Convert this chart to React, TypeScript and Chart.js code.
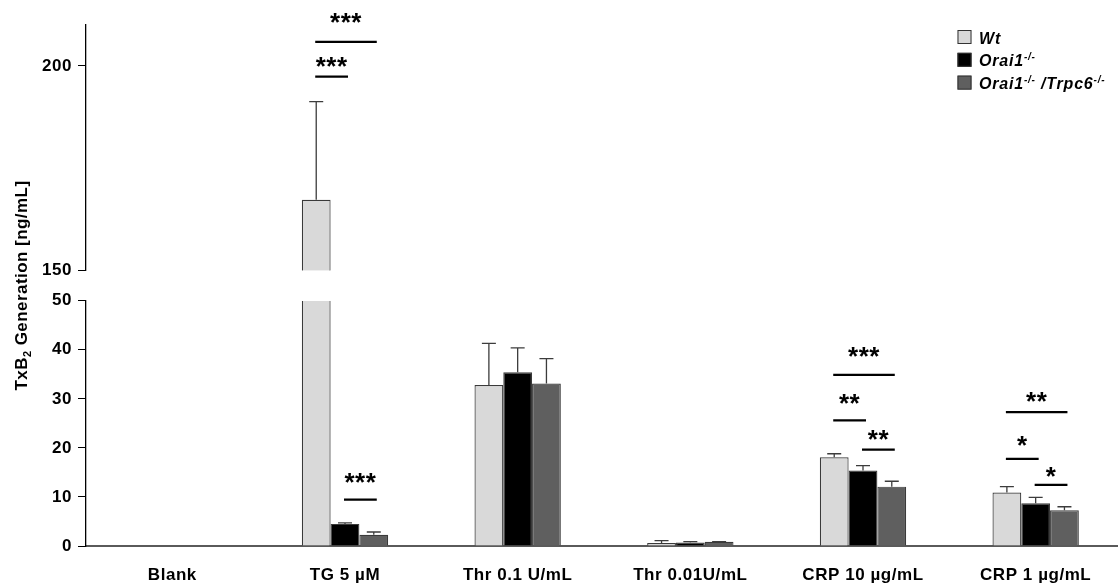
import { useEffect, useRef } from 'react';
import { Chart, registerables } from 'chart.js';

Chart.register(...registerables);

const FONT = '"Liberation Sans", Arial, Helvetica, sans-serif';
const SPACING = '0.55px';

// ---- data ----
const categories = ['Blank', 'TG 5 µM', 'Thr 0.1 U/mL', 'Thr 0.01U/mL', 'CRP 10 µg/mL', 'CRP 1 µg/mL'];
const seriesLabels = ['Wt', 'Orai1-/-', 'Orai1-/- /Trpc6-/-'];
const seriesColors = ['#d9d9d9', '#000000', '#5f5f5f'];

const wtValues = [0.1, 167.3, 32.8, 0.6, 18.1, 10.9];
const wtErrors = [0, 24.0, 8.5, 0.5, 0.7, 1.2];
const orai1Values = [0.1, 4.5, 35.4, 0.7, 15.4, 8.7];
const orai1Errors = [0, 0.2, 5.0, 0.2, 1.0, 1.2];
const dkoValues = [0.1, 2.3, 33.1, 0.85, 12.1, 7.3];
const dkoErrors = [0, 0.55, 5.1, 0.05, 1.1, 0.7];

const lowerTicks = [0, 10, 20, 30, 40, 50];
const upperTicks = [150, 200];
const LOWER_MIN = 0;
const LOWER_MAX = 50;
const UPPER_MIN = 150;
const UPPER_MAX = 210;

const yTitle = 'TxB_2 Generation [ng/mL]';

// significance brackets: category, from series, to series, axis, line level, label centre level
const brackets = [
  { cat: 1, from: 0, to: 2, axis: 'yTop', line: 205.9, label: '***', labelAt: 211.8 },
  { cat: 1, from: 0, to: 1, axis: 'yTop', line: 197.4, label: '***', labelAt: 201.0 },
  { cat: 1, from: 1, to: 2, axis: 'y', line: 9.45, label: '***', labelAt: 13.8 },
  { cat: 4, from: 0, to: 2, axis: 'y', line: 34.9, label: '***', labelAt: 39.5 },
  { cat: 4, from: 0, to: 1, axis: 'y', line: 25.6, label: '**', labelAt: 29.9 },
  { cat: 4, from: 1, to: 2, axis: 'y', line: 19.65, label: '**', labelAt: 22.7 },
  { cat: 5, from: 0, to: 2, axis: 'y', line: 27.3, label: '**', labelAt: 30.3 },
  { cat: 5, from: 0, to: 1, axis: 'y', line: 17.75, label: '*', labelAt: 21.35 },
  { cat: 5, from: 1, to: 2, axis: 'y', line: 12.45, label: '*', labelAt: 15.06 },
];

// ---- helpers ----
type Part = { t: string; s?: 'sup' | 'sub' };

function parseLabel(label: string): Part[] {
  return label
    .split(/(-\/-|_\d)/)
    .filter((t) => t.length > 0)
    .map((t) => (t === '-/-' ? { t, s: 'sup' } : t.startsWith('_') ? { t: t.slice(1), s: 'sub' } : { t })) as Part[];
}

function drawRich(ctx: CanvasRenderingContext2D, parts: Part[], x: number, y: number, size: number, style: string) {
  let cx = x;
  for (const p of parts) {
    const fs = p.s ? Math.round(size * 0.65) : size;
    ctx.font = `${style} ${fs}px ${FONT}`;
    const dy = p.s === 'sup' ? -size * 0.4 : p.s === 'sub' ? size * 0.22 : 0;
    ctx.fillText(p.t, cx, y + dy);
    cx += ctx.measureText(p.t).width;
  }
  return cx - x;
}

function measureRich(ctx: CanvasRenderingContext2D, parts: Part[], size: number, style: string) {
  let w = 0;
  for (const p of parts) {
    const fs = p.s ? Math.round(size * 0.65) : size;
    ctx.font = `${style} ${fs}px ${FONT}`;
    w += ctx.measureText(p.t).width;
  }
  return w;
}

function setSpacing(ctx: any, v: string) {
  if ('letterSpacing' in ctx) ctx.letterSpacing = v;
}

// ---- datasets ----
const seriesValues = [wtValues, orai1Values, dkoValues];
const seriesErrors = [wtErrors, orai1Errors, dkoErrors];
const stackIds = ['wt', 'ko', 'dko'];
const BORDER = '#3a3a3a';

const lowerDatasets = seriesValues.map((vals, i) => ({
  label: seriesLabels[i],
  data: vals.map((v) => Math.min(v, LOWER_MAX)),
  srcValues: vals,
  srcErrors: seriesErrors[i],
  backgroundColor: seriesColors[i],
  borderColor: BORDER,
  borderWidth: (c: any) => (vals[c.dataIndex] > LOWER_MAX ? { left: 1.2, right: 1.2, top: 0, bottom: 0 } : 1.2),
  borderSkipped: 'start',
  stack: stackIds[i],
  xAxisID: 'x',
  yAxisID: 'y',
}));

const upperDataset = {
  label: seriesLabels[0] + ' (upper)',
  data: wtValues.map((v) => (v > LOWER_MAX ? [UPPER_MIN, v] : null)),
  srcValues: wtValues.map((v) => (v > LOWER_MAX ? v : null)),
  srcErrors: wtErrors,
  backgroundColor: seriesColors[0],
  borderColor: BORDER,
  borderWidth: 1.2,
  borderSkipped: 'start',
  stack: stackIds[0],
  xAxisID: 'x',
  yAxisID: 'yTop',
};

// ---- plugins ----
const spacingPlugin = {
  id: 'spacing',
  beforeDraw(chart: any) {
    setSpacing(chart.ctx, SPACING);
  },
};

const errorBarPlugin = {
  id: 'errorBars',
  afterDatasetsDraw(chart: any) {
    const ctx = chart.ctx as CanvasRenderingContext2D;
    ctx.save();
    ctx.strokeStyle = '#3c3c3c';
    ctx.lineWidth = 1.3;
    chart.data.datasets.forEach((ds: any, i: number) => {
      const meta = chart.getDatasetMeta(i);
      const scale = chart.scales[meta.yAxisID];
      ds.srcValues.forEach((v: number | null, j: number) => {
        if (v == null || v > scale.max || v < scale.min) return;
        const e = ds.srcErrors[j];
        if (!e) return;
        const bar = meta.data[j];
        const yTop = scale.getPixelForValue(v + e);
        const yBase = scale.getPixelForValue(v);
        ctx.beginPath();
        ctx.moveTo(bar.x, yBase);
        ctx.lineTo(bar.x, yTop);
        ctx.moveTo(bar.x - 7, yTop);
        ctx.lineTo(bar.x + 7, yTop);
        ctx.stroke();
      });
    });
    ctx.restore();
  },
};

const annotationPlugin = {
  id: 'annotations',
  afterDraw(chart: any) {
    const ctx = chart.ctx as CanvasRenderingContext2D;
    const area = chart.chartArea;
    ctx.save();
    // brackets
    for (const b of brackets) {
      const scale = chart.scales[b.axis];
      const x1 = chart.getDatasetMeta(b.from).data[b.cat].x - 1;
      const x2 = chart.getDatasetMeta(b.to).data[b.cat].x + 3;
      const y = scale.getPixelForValue(b.line);
      ctx.strokeStyle = '#000';
      ctx.lineWidth = 2.2;
      ctx.beginPath();
      ctx.moveTo(x1, y);
      ctx.lineTo(x2, y);
      ctx.stroke();
      setSpacing(ctx, '0.5px');
      ctx.font = `bold 26px ${FONT}`;
      ctx.fillStyle = '#000';
      ctx.textAlign = 'center';
      ctx.textBaseline = 'alphabetic';
      const m = ctx.measureText(b.label);
      const center = scale.getPixelForValue(b.labelAt);
      const ty = center - (m.actualBoundingBoxDescent - m.actualBoundingBoxAscent) / 2;
      ctx.fillText(b.label, (x1 + x2) / 2, ty);
    }
    // y title
    setSpacing(ctx, '0.45px');
    ctx.textAlign = 'left';
    ctx.textBaseline = 'alphabetic';
    ctx.fillStyle = '#000';
    const titleParts = parseLabel(yTitle);
    const tw = measureRich(ctx, titleParts, 17, 'bold');
    ctx.translate(27, (area.top + area.bottom) / 2);
    ctx.rotate(-Math.PI / 2);
    drawRich(ctx, titleParts, -tw / 2, 0, 17, 'bold');
    ctx.restore();

    // legend
    ctx.save();
    setSpacing(ctx, '0.8px');
    const bx = area.right - 164.5;
    const rowTop = area.top + 5;
    seriesLabels.forEach((lab, i) => {
      const top = rowTop + i * 22.8;
      ctx.fillStyle = seriesColors[i];
      ctx.fillRect(bx, top, 14, 14);
      ctx.strokeStyle = '#333';
      ctx.lineWidth = 1;
      ctx.strokeRect(bx + 0.5, top + 0.5, 13, 13);
      ctx.fillStyle = '#000';
      ctx.textAlign = 'left';
      ctx.textBaseline = 'alphabetic';
      drawRich(ctx, parseLabel(lab), bx + 21.5, top + 13.5, 16, 'italic bold');
    });
    ctx.restore();
  },
};

const tickFont = { family: FONT, size: 17, weight: 'bold' as const };

const yCommon = {
  type: 'linear' as const,
  position: 'left' as const,
  stack: 'v',
  stacked: false,
  grid: { drawOnChartArea: false, drawTicks: true, tickLength: 8, color: '#000', lineWidth: 1 },
  border: { display: true, color: '#000', width: 1.3 },
  ticks: { font: tickFont, color: '#000', padding: 6 },
  afterFit: (s: any) => {
    s.width = 86;
  },
};

export default function App() {
  const ref = useRef<HTMLCanvasElement>(null);
  useEffect(() => {
    const chart = new Chart(ref.current as HTMLCanvasElement, {
      type: 'bar',
      data: {
        labels: categories,
        datasets: [...lowerDatasets, upperDataset] as any,
      },
      options: {
        animation: false,
        responsive: true,
        maintainAspectRatio: false,
        layout: { padding: { top: 25, right: 0, bottom: 0, left: 0 } },
        datasets: { bar: { categoryPercentage: 0.5, barPercentage: 1.0 } },
        plugins: { legend: { display: false }, tooltip: { enabled: false }, title: { display: false } },
        scales: {
          x: {
            type: 'category',
            offset: true,
            grid: { display: false, drawTicks: false },
            border: { display: true, color: '#5a5a5a', width: 2 },
            ticks: { font: tickFont, color: '#000', padding: 19, maxRotation: 0, autoSkip: false },
            afterFit: (s: any) => {
              s.height = 40;
            },
          },
          y: {
            ...yCommon,
            stackWeight: 245.3,
            min: LOWER_MIN,
            max: LOWER_MAX,
            afterBuildTicks: (s: any) => {
              s.ticks = lowerTicks.map((value) => ({ value }));
            },
          },
          yGap: {
            type: 'linear',
            position: 'left',
            stack: 'v',
            stackWeight: 30,
            min: 0,
            max: 1,
            grid: { display: false, drawTicks: false },
            border: { display: false },
            ticks: { display: false },
            afterFit: (s: any) => {
              s.width = 86;
            },
          },
          yTop: {
            ...yCommon,
            stackWeight: 245.7,
            min: UPPER_MIN,
            max: UPPER_MAX,
            afterBuildTicks: (s: any) => {
              s.ticks = upperTicks.map((value) => ({ value }));
            },
          },
        } as any,
      },
      plugins: [spacingPlugin, errorBarPlugin, annotationPlugin],
    });
    return () => chart.destroy();
  }, []);

  return (
    <div style={{ position: 'fixed', left: 0, top: 0, width: 1122, height: 586, background: '#fff' }}>
      <canvas ref={ref} />
    </div>
  );
}
